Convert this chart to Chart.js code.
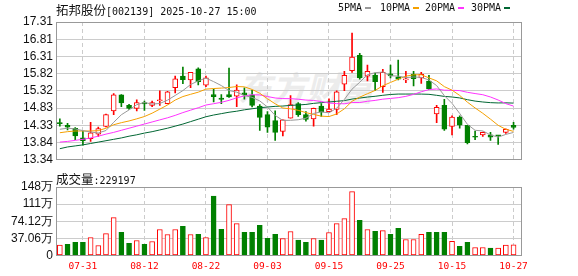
<!DOCTYPE html>
<html>
<head>
<meta charset="utf-8">
<script src="https://cdn.jsdelivr.net/npm/chart.js@4.4.1/dist/chart.umd.min.js"></script>
<style>
html, body { margin: 0; padding: 0; background: #fff; }
#wrap { position: relative; width: 578px; height: 276px; overflow: hidden; }
canvas { position: absolute; left: 0; z-index: 1; }
#priceChart { top: 0; }
#volChart { top: 170px; }
.txt { position: absolute; white-space: pre; color: #111; line-height: 1; z-index: 2; }
.mono { font-family: "DejaVu Sans Mono", monospace; font-size: 10px; }
.cjk { font-family: "Noto Sans CJK SC", sans-serif; font-size: 12.5px; }
#title { left: 56px; top: 2px; }
#volTitle { left: 56px; top: 171px; }
.mark { display: inline-block; width: 6px; height: 2px; margin-left: 3px; vertical-align: middle; }
#watermark { position: absolute; left: 238px; top: 70px; z-index: 0; font-family: "Noto Sans CJK SC", sans-serif;
  font-size: 34px; font-weight: 700; font-style: italic; color: #ececec; white-space: pre; line-height: 1; }
</style>
</head>
<body>
<div id="wrap">
  <div id="watermark">东方财富</div>
  <div id="title" class="txt"><span class="cjk">拓邦股份</span><span class="mono">[002139] 2025-10-27 15:00</span></div>
  <div id="legend"></div>
  <div id="volTitle" class="txt"><span class="cjk">成交量</span><span class="mono" id="volText"></span></div>
  <canvas id="priceChart" width="578" height="170"></canvas>
  <canvas id="volChart" width="578" height="106"></canvas>
</div>
<script>
// data
const dates = ['07-28','07-29','07-30','07-31','08-01','08-04','08-05','08-06','08-07','08-08',
  '08-11','08-12','08-13','08-14','08-15','08-18','08-19','08-20','08-21','08-22',
  '08-25','08-26','08-27','08-28','08-29','09-01','09-02','09-03','09-04','09-05',
  '09-08','09-09','09-10','09-11','09-12','09-15','09-16','09-17','09-18','09-19',
  '09-22','09-23','09-24','09-25','09-26','09-29','09-30','10-09','10-10','10-13',
  '10-14','10-15','10-16','10-17','10-20','10-21','10-22','10-23','10-24','10-27'];
const opens = [14.40,14.33,14.25,13.97,13.95,14.08,14.30,14.75,15.21,14.91,
  14.82,14.99,14.91,15.04,14.96,15.42,15.75,15.64,15.96,15.49,
  15.22,15.12,15.22,15.17,15.27,15.21,14.89,14.64,14.47,14.16,
  14.54,14.96,14.64,14.52,14.89,14.73,14.79,15.52,15.91,16.35,
  15.75,15.77,15.45,15.82,15.73,15.64,15.80,15.70,15.61,14.66,
  14.91,14.30,14.57,14.33,14.00,14.06,14.06,14.04,14.13,14.33];
const highs = [14.52,14.39,14.27,14.17,14.42,14.28,14.66,15.25,15.22,14.94,
  15.07,15.03,15.03,15.33,15.31,15.75,16.01,15.86,15.99,15.75,
  15.38,15.22,15.98,15.50,15.41,15.34,14.93,14.73,14.75,14.49,
  15.19,14.99,14.73,14.83,14.96,15.10,15.33,15.89,16.99,16.41,
  16.07,15.84,15.95,16.07,16.21,15.89,15.89,15.86,15.77,14.91,
  15.08,14.61,14.61,14.33,14.17,14.14,14.13,14.04,14.23,14.42];
const lows = [14.31,14.20,13.92,13.76,13.87,14.01,14.29,14.64,14.87,14.79,
  14.75,14.76,14.87,14.91,14.95,15.27,15.53,15.42,15.50,15.45,
  15.01,14.96,15.14,14.87,15.09,14.86,14.19,14.13,13.90,14.03,
  14.54,14.59,14.45,14.31,14.59,14.72,14.64,15.33,15.86,15.66,
  15.61,15.33,15.28,15.70,15.64,15.56,15.47,15.54,15.36,14.41,
  14.19,14.06,14.25,13.80,13.92,14.01,13.90,13.78,14.10,14.22];
const closes = [14.38,14.28,14.03,13.89,14.12,14.24,14.64,15.21,14.98,14.82,
  14.99,14.95,14.99,15.06,15.30,15.67,15.65,15.86,15.59,15.70,
  15.16,15.08,15.15,15.35,15.21,14.91,14.56,14.28,14.13,14.49,
  14.93,14.64,14.50,14.82,14.71,14.80,15.30,15.77,16.30,15.70,
  15.89,15.59,15.86,15.76,15.66,15.67,15.68,15.80,15.39,14.85,
  14.22,14.57,14.34,13.83,13.99,14.13,13.99,14.03,14.22,14.27];
const prevClose = 14.30;
const lastVol = 229197;
// volume in 万 (10k)
const vols = [22.3,24.4,28.7,28.7,38.9,21.6,47.5,82.1,50.3,26.6,
  32.4,24.4,30.3,56.2,45.4,56.2,63.3,45.4,46.0,38.9,
  128.8,56.8,110.2,69.1,50.3,50.3,65.5,37.4,46.0,36.7,
  51.9,33.1,28.7,36.7,33.1,49.7,69.1,79.9,138.3,76.3,
  56.2,52.5,54.0,46.0,59.0,34.6,34.6,46.0,50.3,50.3,
  50.3,30.9,20.1,28.7,17.3,17.3,15.8,15.8,22.3,lastVol / 1e4];

// moving averages: the first days need history that is off the picture
const maPeriods = [5, 10, 20, 30];
const maColors = ['#999999', '#f5a000', '#ff33ff', '#006633'];
const ma5Lead = [14.22,14.25,14.23,14.18];
const ma10Lead = [14.12,14.15,14.17,14.17,14.17,14.18,14.25,14.35,14.41];
const ma20Lead = [13.85,13.87,13.90,13.93,13.97,14.02,14.08,14.13,14.19,14.25,
  14.31,14.37,14.43,14.49,14.55,14.62,14.70,14.77,14.84];
const ma30Lead = [13.66,13.71,13.74,13.77,13.81,13.85,13.89,13.93,13.97,14.02,
  14.06,14.11,14.15,14.20,14.25,14.31,14.37,14.44,14.51,14.58,
  14.63,14.67,14.71,14.74,14.78,14.81,14.84,14.86,14.88];
const maLeads = [ma5Lead, ma10Lead, ma20Lead, ma30Lead];

const priceMin = 13.34, priceMax = 17.31;
const priceTicks = ['13.34','13.84','14.33','14.83','15.32','15.82','16.31','16.81','17.31'];
const volMax = 148.24;
const volTicks = ['0','37.06万','74.12万','111万','148万'];
const tickDates = ['07-31','08-12','08-22','09-03','09-15','09-25','10-15','10-27'];

const RED = '#ff0000', GREEN = '#008000';
const xIdx = tickDates.map(d => dates.indexOf(d));
const up = closes.map((c, i) => c >= opens[i]);
const volUp = closes.map((c, i) => c >= (i ? closes[i - 1] : prevClose));

function movingAvg(p, lead) {
    return closes.map((c, i) => {
        if (i < p - 1) return lead[i];
        let s = 0;
        for (let k = i - p + 1; k <= i; k++) s += closes[k];
        return s / p;
    });
}

// legend + volume text
const legendLeft = [338, 380, 425, 471];
const legend = document.getElementById('legend');
maPeriods.forEach((p, k) => {
    const el = document.createElement('div');
    el.className = 'txt mono';
    el.style.left = legendLeft[k] + 'px';
    el.style.top = '3px';
    el.innerHTML = p + 'PMA<span class="mark" style="background:' + maColors[k] + '"></span>';
    legend.appendChild(el);
});
document.getElementById('volText').textContent = ':' + lastVol;

const frame = {
    id: 'frame',
    afterDraw(chart) {
        const {ctx, chartArea: a} = chart;
        ctx.save();
        ctx.strokeStyle = '#999';
        ctx.lineWidth = 1;
        ctx.strokeRect(Math.round(a.left) + 0.5, Math.round(a.top) + 0.5, Math.round(a.width) - 1, Math.round(a.height) - 1);
        ctx.restore();
    }
};

function xAxis(showLabels) {
    return {
        type: 'linear',
        min: -0.5,
        max: 60.1,
        offset: false,
        grid: {color: '#cccccc', drawTicks: false, offset: false},
        border: {display: false, dash: [4, 3]},
        afterBuildTicks: s => { s.ticks = xIdx.map(v => ({value: v})); },
        ticks: {
            display: showLabels,
            autoSkip: false,
            maxRotation: 0,
            padding: 5,
            color: RED,
            font: {family: 'DejaVu Sans Mono', size: 9.5},
            callback: v => dates[v]
        },
        afterFit: s => { s.height = showLabels ? 20.5 : 0; }
    };
}

function yAxis(min, max, labels) {
    const steps = labels.length - 1;
    return {
        min: min,
        max: max,
        beginAtZero: false,
        grid: {color: '#cccccc', drawTicks: false},
        border: {display: false},
        afterBuildTicks: s => { s.ticks = labels.map((t, k) => ({value: min + k * (max - min) / steps})); },
        ticks: {
            autoSkip: false,
            padding: 3,
            color: '#111',
            font: {family: 'Liberation Sans', size: 12},
            callback: (v, k) => labels[k]
        },
        afterFit: s => { s.width = 56; }
    };
}

const maSets = maPeriods.map((p, k) => {
    const vals = movingAvg(p, maLeads[k]);
    return {
        type: 'line',
        data: vals.map((v, i) => ({x: i, y: v})),
        borderColor: maColors[k],
        borderWidth: 1,
        pointRadius: 0,
        tension: 0,
        order: 0
    };
});

new Chart(document.getElementById('priceChart'), {
    type: 'bar',
    data: {
        datasets: [
            ...maSets,
            {
                data: closes.map((c, i) => ({x: i, y: [opens[i], c]})),
                backgroundColor: up.map(u => u ? '#ffffff' : GREEN),
                borderColor: up.map(u => u ? RED : GREEN),
                borderWidth: 1,
                borderSkipped: false,
                barThickness: 5,
                minBarLength: 1,
                grouped: false,
                order: 1
            },
            {
                data: closes.map((c, i) => ({x: i, y: [lows[i], highs[i]]})),
                backgroundColor: up.map(u => u ? RED : GREEN),
                borderWidth: 0,
                barThickness: 1,
                grouped: false,
                order: 2
            }
        ]
    },
    options: {
        responsive: false,
        animation: false,
        layout: {padding: {left: 0, right: 56, top: 22, bottom: 5}},
        plugins: {legend: {display: false}, tooltip: {enabled: false}},
        scales: {
            x: xAxis(false),
            y: yAxis(priceMin, priceMax, priceTicks)
        }
    },
    plugins: [frame]
});

new Chart(document.getElementById('volChart'), {
    type: 'bar',
    data: {
        datasets: [{
            data: vols.map((v, i) => ({x: i, y: v})),
            backgroundColor: volUp.map(u => u ? '#ffffff' : GREEN),
            borderColor: volUp.map(u => u ? RED : GREEN),
            borderWidth: 1,
            borderSkipped: false,
            barThickness: 5,
            grouped: false
        }]
    },
    options: {
        responsive: false,
        animation: false,
        layout: {padding: {left: 0, right: 56, top: 17, bottom: 0}},
        plugins: {legend: {display: false}, tooltip: {enabled: false}},
        scales: {
            x: xAxis(true),
            y: yAxis(0, volMax, volTicks)
        }
    },
    plugins: [frame]
});
</script>
</body>
</html>
